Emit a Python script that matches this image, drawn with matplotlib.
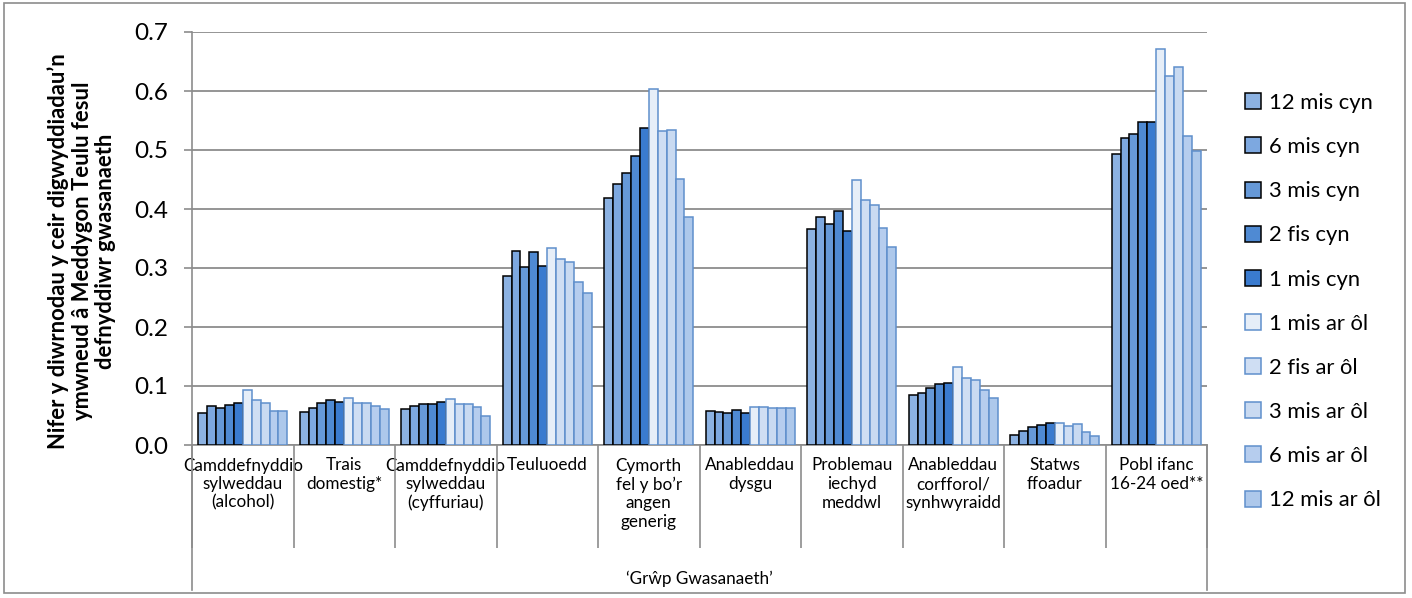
import matplotlib

matplotlib.use("Agg")
import matplotlib.pyplot as plt
import numpy as np
from matplotlib.patches import Rectangle

plt.rcParams["font.family"] = ["Lato", "DejaVu Sans"]

GROUPS = [
    "Camddefnyddio\nsylweddau\n(alcohol)",
    "Trais\ndomestig*",
    "Camddefnyddio\nsylweddau\n(cyffuriau)",
    "Teuluoedd",
    "Cymorth\nfel y bo\u2019r\nangen\ngenerig",
    "Anableddau\ndysgu",
    "Problemau\niechyd\nmeddwl",
    "Anableddau\ncorfforol/\nsynhwyraidd",
    "Statws\nffoadur",
    "Pobl ifanc\n16-24 oed**",
]

SERIES = ["12 mis cyn", "6 mis cyn", "3 mis cyn", "2 fis cyn", "1 mis cyn",
          "1 mis ar \u00f4l", "2 fis ar \u00f4l", "3 mis ar \u00f4l",
          "6 mis ar \u00f4l", "12 mis ar \u00f4l"]

# one row per group, one column per series
alcohol = [0.055, 0.066, 0.063, 0.068, 0.072, 0.093, 0.076, 0.072, 0.058, 0.058]
trais = [0.056, 0.063, 0.071, 0.076, 0.073, 0.080, 0.071, 0.072, 0.066, 0.061]
cyffuriau = [0.061, 0.066, 0.070, 0.070, 0.073, 0.078, 0.070, 0.070, 0.065, 0.049]
teuluoedd = [0.287, 0.328, 0.302, 0.327, 0.304, 0.334, 0.315, 0.310, 0.277, 0.258]
cymorth = [0.419, 0.443, 0.461, 0.490, 0.538, 0.604, 0.532, 0.534, 0.451, 0.386]
dysgu = [0.058, 0.056, 0.055, 0.059, 0.055, 0.065, 0.064, 0.062, 0.062, 0.063]
meddwl = [0.366, 0.386, 0.374, 0.397, 0.363, 0.449, 0.415, 0.406, 0.368, 0.336]
corfforol = [0.085, 0.088, 0.097, 0.103, 0.105, 0.132, 0.113, 0.110, 0.094, 0.080]
ffoadur = [0.017, 0.024, 0.031, 0.034, 0.037, 0.037, 0.033, 0.036, 0.022, 0.016]
pobl_ifanc = [0.494, 0.521, 0.527, 0.547, 0.547, 0.671, 0.626, 0.641, 0.524, 0.499]

VALUES = np.array([alcohol, trais, cyffuriau, teuluoedd, cymorth,
                   dysgu, meddwl, corfforol, ffoadur, pobl_ifanc])

FILLS = ["#8CB2E2", "#7DA8E0", "#6699D8", "#4F8AD3", "#3A7BCF",
         "#E6EEF8", "#CFDEF3", "#C9DAF1", "#B6CDEE", "#ADC8EB"]
EDGES = ["black"] * 5 + ["#5F8FCC"] * 5

W, H = 1412, 598
fig = plt.figure(figsize=(W / 100, H / 100), dpi=100)
left, right, top, bottom = 192, 1207, 32, 445
ax = fig.add_axes([left / W, 1 - bottom / H, (right - left) / W, (bottom - top) / H])

n = len(SERIES)
bw = 0.088
x = np.arange(len(GROUPS))
for i, (lab, fc, ec) in enumerate(zip(SERIES, FILLS, EDGES)):
    ax.bar(x + (i - (n - 1) / 2) * bw, VALUES[:, i], bw, color=fc, edgecolor=ec,
           linewidth=1.1, label=lab, zorder=3)

ax.set_xlim(-0.5, len(GROUPS) - 0.5)
ax.set_ylim(0, 0.7)
ax.set_yticks(np.arange(0, 0.71, 0.1))
ax.set_yticklabels([f"{v:.1f}" for v in np.arange(0, 0.71, 0.1)], fontsize=17.5)
ax.yaxis.grid(True, color="#8C8C8C", linewidth=1.3, zorder=0)
ax.tick_params(axis="y", length=6, width=1.2, color="#8C8C8C", pad=11)

ax.set_xticks(x)
ax.set_xticklabels(GROUPS, fontsize=12.3, va="top", linespacing=1.2)
ax.tick_params(axis="x", which="major", length=0, pad=9)
ax.set_xticks(np.arange(-0.5, len(GROUPS)), minor=True)
ax.tick_params(axis="x", which="minor", length=74, width=1.2, color="#8C8C8C")

for s in ["top", "right"]:
    ax.spines[s].set_visible(False)
for s in ["left", "bottom"]:
    ax.spines[s].set_color("#8C8C8C")
    ax.spines[s].set_linewidth(1.2)

# outer edges of the category axis reach down past the group label
for xe in (-0.5, len(GROUPS) - 0.5):
    ax.plot([xe, xe], [0, -145 / 413 * 0.7], color="#8C8C8C", lw=1.2, clip_on=False)

ax.text(0.5, -134 / 413, "\u2018Gr\u0175p Gwasanaeth\u2019", transform=ax.transAxes,
        ha="center", va="center", fontsize=12.3)

fig.text(82 / W, 1 - 251 / H,
         "Nifer y diwrnodau y ceir digwyddiadau\u2019n\nymwneud \u00e2 Meddygon Teulu fesul\ndefnyddiwr gwasanaeth",
         rotation=90, ha="center", va="center", fontsize=15.8, fontweight="bold",
         linespacing=1.15)

fig.legend(loc="upper left", bbox_to_anchor=(1234 / W, 1 - 82 / H), frameon=False,
           fontsize=15.8, handlelength=0.75, handleheight=0.75, handletextpad=0.35,
           labelspacing=1.1, borderpad=0)

fig.add_artist(Rectangle((4 / W, 1 - 593 / H), 1401 / W, 590 / H,
                         transform=fig.transFigure, fill=False,
                         edgecolor="#8C8C8C", linewidth=1.2))

fig.savefig("out.png", dpi=100)
